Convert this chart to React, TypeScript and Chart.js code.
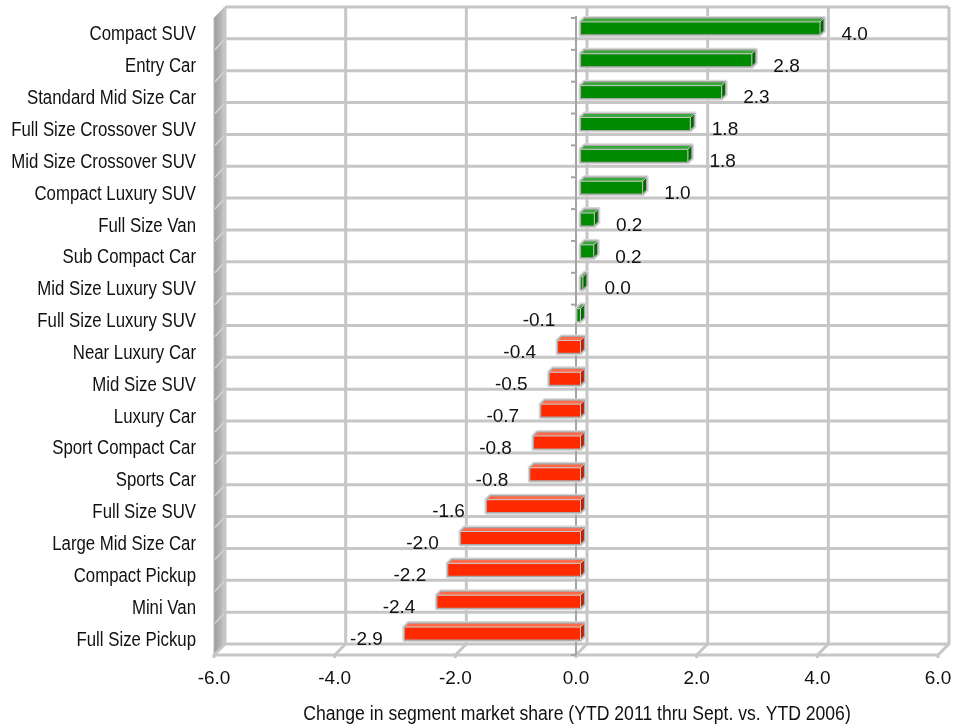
import React, { useEffect, useRef } from "react";
import { Chart, registerables } from "chart.js";

Chart.register(...registerables);

const categories = [
  "Compact SUV",
  "Entry Car",
  "Standard Mid Size Car",
  "Full Size Crossover SUV",
  "Mid Size Crossover SUV",
  "Compact Luxury SUV",
  "Full Size Van",
  "Sub Compact Car",
  "Mid Size Luxury SUV",
  "Full Size Luxury SUV",
  "Near Luxury Car",
  "Mid Size SUV",
  "Luxury Car",
  "Sport Compact Car",
  "Sports Car",
  "Full Size SUV",
  "Large Mid Size Car",
  "Compact Pickup",
  "Mini Van",
  "Full Size Pickup",
];

const values = [
  3.97, 2.84, 2.34, 1.82, 1.78, 1.03, 0.23, 0.22, 0.04, -0.06, -0.38, -0.52,
  -0.66, -0.78, -0.84, -1.56, -1.99, -2.2, -2.38, -2.92,
];

const valueLabels = [
  "4.0", "2.8", "2.3", "1.8", "1.8", "1.0", "0.2", "0.2", "0.0", "-0.1",
  "-0.4", "-0.5", "-0.7", "-0.8", "-0.8", "-1.6", "-2.0", "-2.2", "-2.4", "-2.9",
];

const xTickValues = [-6, -4, -2, 0, 2, 4, 6];
const axisTitle = "Change in segment market share (YTD 2011 thru Sept. vs. YTD 2006)";

const DEPTH = 11;
const GRID = "#c6c6c6";
const SANS = '"Liberation Sans", Arial, sans-serif';

function narrowText(ctx: any, text: string, x: number, y: number, align: string, size: number, sx: number) {
  ctx.save();
  ctx.font = `${size}px ${SANS}`;
  ctx.textBaseline = "middle";
  ctx.textAlign = align;
  ctx.translate(x, y);
  ctx.scale(sx, 1);
  ctx.fillText(text, 0, 0);
  ctx.restore();
}

const wallPlugin = {
  id: "wall3d",
  beforeDatasetsDraw(chart: any) {
    const { ctx, chartArea, scales } = chart;
    const { left, right, top, bottom } = chartArea;
    const xs = scales.x;
    const D = DEPTH;
    ctx.save();
    const g = ctx.createLinearGradient(left, 0, left + D, 0);
    g.addColorStop(0, "#9c9c9c");
    g.addColorStop(0.6, "#b4b4b4");
    g.addColorStop(1, "#cfcfcf");
    ctx.fillStyle = g;
    ctx.beginPath();
    ctx.moveTo(left, top);
    ctx.lineTo(left + D, top - D);
    ctx.lineTo(left + D, bottom - D);
    ctx.lineTo(left, bottom);
    ctx.closePath();
    ctx.fill();
    ctx.strokeStyle = "#b8b8b8";
    ctx.lineWidth = 1;
    ctx.stroke();

    const n = categories.length;
    const rowH = (bottom - top) / n;
    ctx.lineCap = "butt";
    for (let i = 0; i <= n; i++) {
      const yb = top + i * rowH;
      ctx.strokeStyle = GRID;
      ctx.lineWidth = 3;
      ctx.beginPath();
      ctx.moveTo(left + D, yb - D);
      ctx.lineTo(right + D, yb - D);
      ctx.stroke();
      if (i > 0 && i < n) {
        ctx.strokeStyle = "#d4d4d4";
        ctx.lineWidth = 1.5;
        ctx.beginPath();
        ctx.moveTo(left + 1, yb);
        ctx.lineTo(left + D, yb - D);
        ctx.stroke();
      }
    }
    xTickValues.forEach((v) => {
      const xf = xs.getPixelForValue(v);
      ctx.strokeStyle = GRID;
      ctx.lineWidth = 3;
      ctx.beginPath();
      ctx.moveTo(xf + D, top - D);
      ctx.lineTo(xf + D, bottom - D);
      ctx.lineTo(xf, bottom);
      ctx.lineTo(xf, bottom + 3);
      ctx.stroke();
    });
    ctx.strokeStyle = GRID;
    ctx.lineWidth = 3;
    ctx.beginPath();
    ctx.moveTo(left, bottom);
    ctx.lineTo(right, bottom);
    ctx.stroke();
    const x0 = xs.getPixelForValue(0);
    ctx.strokeStyle = "#a4a4a4";
    ctx.lineWidth = 2;
    ctx.beginPath();
    ctx.moveTo(x0, top - 2);
    ctx.lineTo(x0, bottom);
    ctx.stroke();
    for (let i = 0; i <= n; i++) {
      const yb = top + i * rowH;
      ctx.beginPath();
      ctx.moveTo(x0 - 5, yb);
      ctx.lineTo(x0, yb);
      ctx.stroke();
    }
    ctx.restore();
  },
  afterDatasetsDraw(chart: any) {
    const { ctx, scales, chartArea } = chart;
    const meta = chart.getDatasetMeta(0);
    const xs = scales.x;
    const ys = scales.y;
    const ox = 4.5;
    const oy = -5.5;
    const d = 4;
    ctx.save();
    meta.data.forEach((el: any, i: number) => {
      const v = values[i];
      const p = el.getProps(["x", "y", "base", "height"], true);
      const l = Math.min(p.x, p.base) + ox;
      const r = Math.max(p.x, p.base) + ox;
      const t = p.y - p.height / 2 + oy;
      const b = p.y + p.height / 2 + oy;
      const gain = v > -0.1;
      const front = gain ? "#008a00" : "#ff2a00";
      const topC = gain ? "#3aa83a" : "#ff6a4a";
      const side = gain ? "#006a00" : "#c41e00";
      const outline = () => {
        ctx.beginPath();
        ctx.moveTo(l, b);
        ctx.lineTo(l, t);
        ctx.lineTo(l + d, t - d);
        ctx.lineTo(r + d, t - d);
        ctx.lineTo(r + d, b - d);
        ctx.lineTo(r, b);
        ctx.closePath();
      };
      outline();
      ctx.strokeStyle = "#d6d6d6";
      ctx.lineWidth = 4;
      ctx.lineJoin = "round";
      ctx.stroke();
      ctx.fillStyle = front;
      ctx.fillRect(l, t, r - l, b - t);
      ctx.fillStyle = topC;
      ctx.beginPath();
      ctx.moveTo(l, t);
      ctx.lineTo(l + d, t - d);
      ctx.lineTo(r + d, t - d);
      ctx.lineTo(r, t);
      ctx.closePath();
      ctx.fill();
      ctx.fillStyle = side;
      ctx.beginPath();
      ctx.moveTo(r, t);
      ctx.lineTo(r + d, t - d);
      ctx.lineTo(r + d, b - d);
      ctx.lineTo(r, b);
      ctx.closePath();
      ctx.fill();
      outline();
      ctx.strokeStyle = "#a8a8a8";
      ctx.lineWidth = 1.2;
      ctx.stroke();
      ctx.beginPath();
      ctx.moveTo(l, t);
      ctx.lineTo(r, t);
      ctx.lineTo(r + d, t - d);
      ctx.moveTo(r, t);
      ctx.lineTo(r, b);
      ctx.strokeStyle = "#c8c8c8";
      ctx.lineWidth = 1;
      ctx.stroke();

      ctx.fillStyle = "#111";
      ctx.font = `19px ${SANS}`;
      ctx.textBaseline = "middle";
      const xv = xs.getPixelForValue(v);
      if (v >= 0) {
        ctx.textAlign = "left";
        ctx.fillText(valueLabels[i], xv + 26, p.y + 0.5);
      } else {
        ctx.textAlign = "right";
        ctx.fillText(valueLabels[i], xv - 17, p.y + 0.5);
      }
    });
    ctx.fillStyle = "#111";
    categories.forEach((c, i) => {
      narrowText(ctx, c, chartArea.left - 18, ys.getPixelForValue(i) + 1, "right", 20, 0.84);
    });
    narrowText(ctx, axisTitle, (chartArea.left + chartArea.right) / 2 + 1, 714, "center", 20, 0.88);
    ctx.restore();
  },
};

export default function App() {
  const ref = useRef<HTMLCanvasElement | null>(null);
  useEffect(() => {
    if (!ref.current) return;
    const chart = new Chart(ref.current, {
      type: "bar",
      data: {
        labels: categories,
        datasets: [
          {
            data: values,
            backgroundColor: "rgba(0,0,0,0)",
            borderWidth: 0,
            barThickness: 13,
          },
        ],
      },
      options: {
        indexAxis: "y",
        animation: false,
        responsive: false,
        maintainAspectRatio: false,
        layout: { padding: { top: 18, right: 26, left: 0, bottom: 0 } },
        plugins: {
          legend: { display: false },
          tooltip: { enabled: false },
        },
        scales: {
          x: {
            type: "linear",
            min: -6,
            max: 6,
            afterBuildTicks: (axis: any) => {
              axis.ticks = xTickValues.map((v) => ({ value: v }));
            },
            afterFit: (axis: any) => {
              axis.height = 69;
            },
            grid: { display: false, drawTicks: false },
            border: { display: false },
            ticks: {
              padding: 12,
              color: "#111",
              font: { family: SANS, size: 19 },
              callback: (v: any) => Number(v).toFixed(1),
            },
          },
          y: {
            afterFit: (axis: any) => {
              axis.width = 214;
            },
            grid: { display: false, drawTicks: false },
            border: { display: false },
            ticks: { display: false },
          },
        },
      },
      plugins: [wallPlugin],
    });
    return () => chart.destroy();
  }, []);
  return (
    <div style={{ position: "absolute", left: 0, top: 0, width: 964, height: 724 }}>
      <canvas ref={ref} width={964} height={724} style={{ width: 964, height: 724 }} />
    </div>
  );
}
